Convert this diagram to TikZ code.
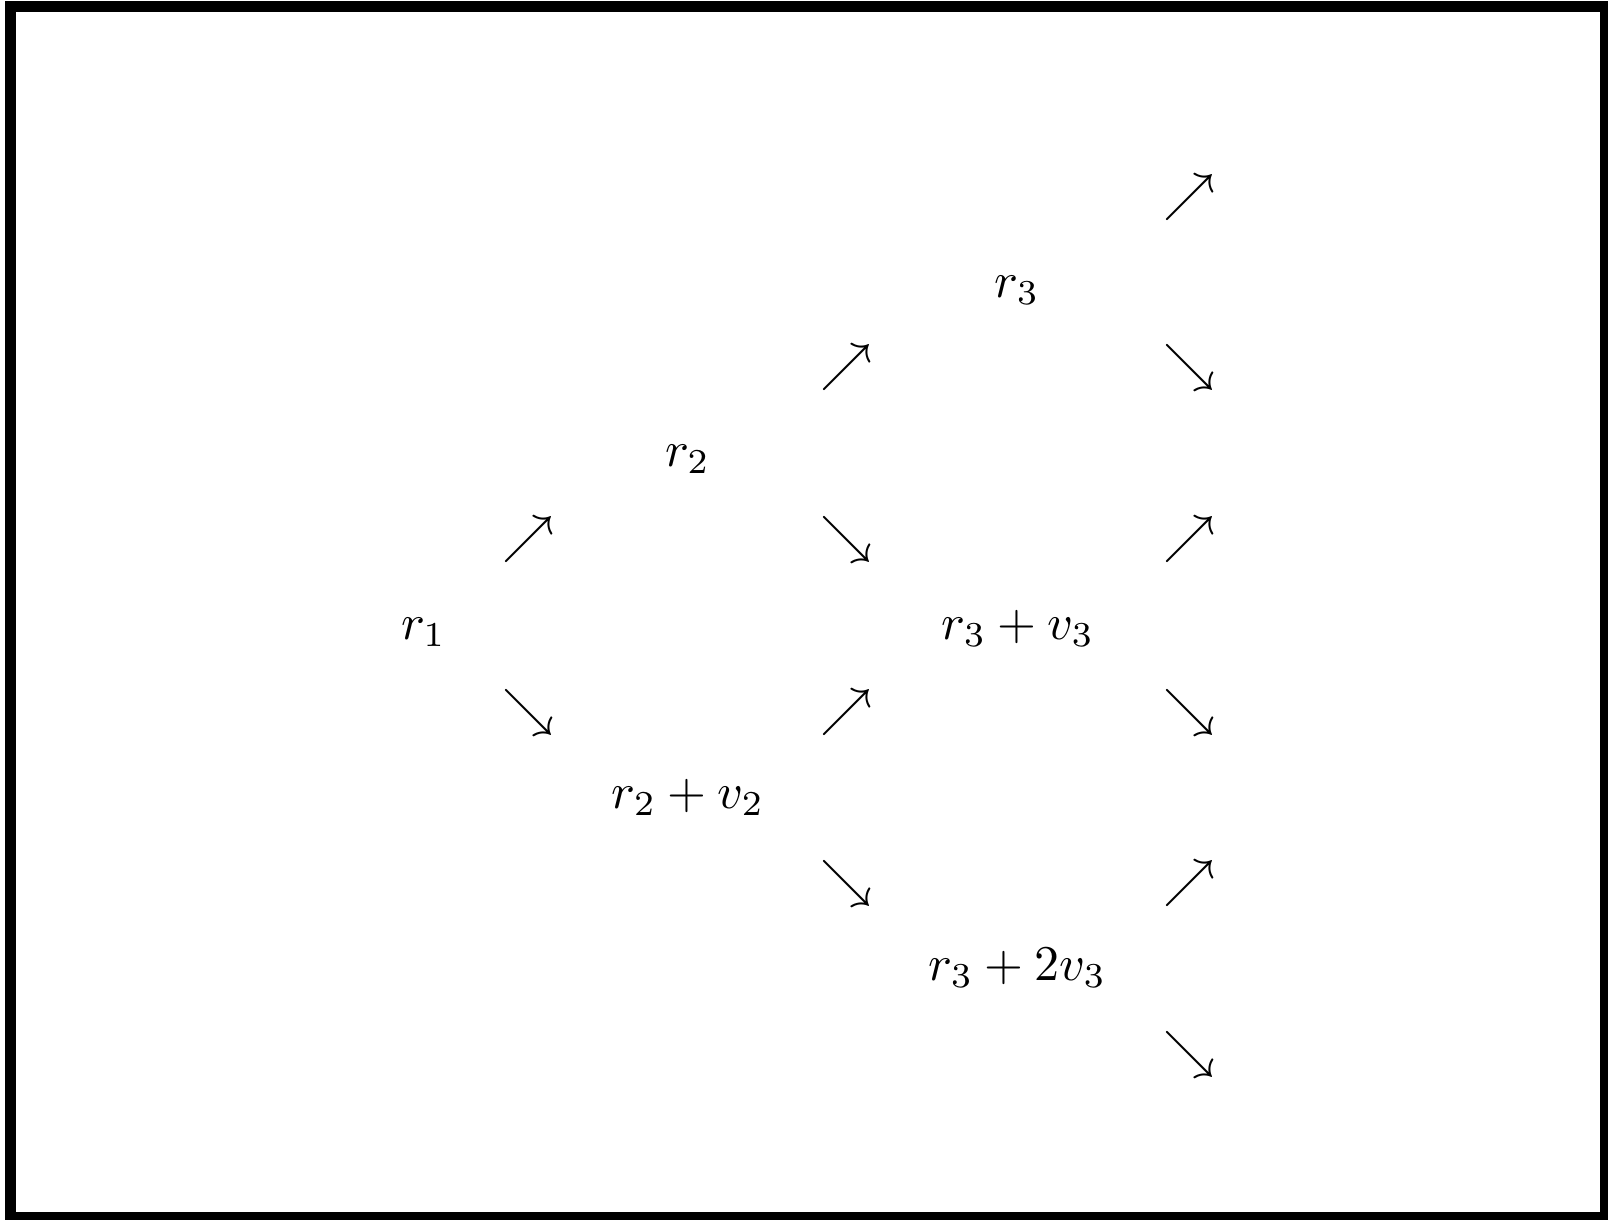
\documentclass[tikz,border=0pt]{standalone}
\usepackage{graphicx}
\newcommand{\hugemath}[1]{\scalebox{5.0}{$#1$}}
\newcommand{\hugearrow}[1]{\scalebox{5.2}{$#1$}}
\begin{document}
\begin{tikzpicture}[x=1pt,y=-1pt,
  every node/.style={inner sep=0pt,outer sep=0pt},
  lbl/.style={anchor=base},
  arr/.style={anchor=center}]
\useasboundingbox (0,0) rectangle (1608,1219);
\draw[line width=11pt] (10.5,6.5) rectangle (1605.5,1217.5);
% terms
\node[lbl] (r1) at (423.5,639) {\hugemath{r_1}};
\node[lbl] (r2) at (687.5,466) {\hugemath{r_2}};
\node[lbl] (r2v2) at (688,808) {\hugemath{r_2 + v_2}};
\node[lbl] (r3) at (1017,297) {\hugemath{r_3}};
\node[lbl] (r3v3) at (1018,639) {\hugemath{r_3 + v_3}};
\node[lbl] (r32v3) at (1017.5,980) {\hugemath{r_3 + 2v_3}};
% arrows column 1
\node[arr] (a1) at (528,539) {\hugearrow{\nearrow}};
\node[arr] (a2) at (528,712) {\hugearrow{\searrow}};
% arrows column 2
\node[arr] (b1) at (846,367) {\hugearrow{\nearrow}};
\node[arr] (b2) at (846,539) {\hugearrow{\searrow}};
\node[arr] (b3) at (846,712) {\hugearrow{\nearrow}};
\node[arr] (b4) at (846,883) {\hugearrow{\searrow}};
% arrows column 3
\node[arr] (c1) at (1189,197) {\hugearrow{\nearrow}};
\node[arr] (c2) at (1189,367) {\hugearrow{\searrow}};
\node[arr] (c3) at (1189,539) {\hugearrow{\nearrow}};
\node[arr] (c4) at (1189,712) {\hugearrow{\searrow}};
\node[arr] (c5) at (1189,883) {\hugearrow{\nearrow}};
\node[arr] (c6) at (1189,1054) {\hugearrow{\searrow}};
\end{tikzpicture}
\end{document}
